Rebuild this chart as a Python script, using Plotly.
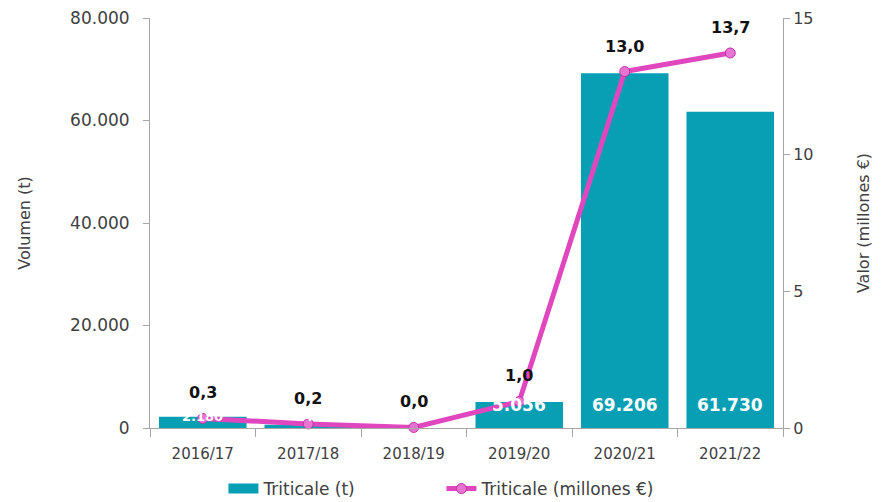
import plotly.graph_objects as go

categories = ["2016/17", "2017/18", "2018/19", "2019/20", "2020/21", "2021/22"]
volumen_t = [2180, 640, 0, 5056, 69206, 61730]
volumen_labels = ["2.180", "640", "", "5.056", "69.206", "61.730"]
valor_meur = [0.35, 0.15, 0.02, 0.97, 13.04, 13.72]
valor_labels = ["0,3", "0,2", "0,0", "1,0", "13,0", "13,7"]
y1_ticks = [0, 20000, 40000, 60000, 80000]
y1_ticklabels = ["0", "20.000", "40.000", "60.000", "80.000"]
y2_ticks = [0, 5, 10, 15]

FONT = "DejaVu Sans"
BAR = "#089fb4"
LINE = "#e046be"
AX = "#a6a6a6"
TXT = "#404040"

fig = go.Figure()
fig.add_trace(go.Bar(
    x=categories, y=volumen_t, name="Triticale (t)",
    marker=dict(color=BAR, line=dict(width=0)),
    showlegend=False, yaxis="y",
))
# legend proxy for the bar series (wide rectangle symbol)
fig.add_trace(go.Scatter(
    x=[None], y=[None], mode="lines", name="Triticale (t)",
    line=dict(color=BAR, width=11), yaxis="y",
))
fig.add_trace(go.Scatter(
    x=categories, y=valor_meur, name="Triticale (millones €)",
    mode="lines+markers",
    line=dict(color=LINE, width=5),
    marker=dict(size=10, color="#e874d2", line=dict(color="#c42ea8", width=1)),
    cliponaxis=False,
    yaxis="y2",
))

annotations = []
for c, v, t in zip(categories, volumen_t, volumen_labels):
    if t:
        small = v < 3000
        annotations.append(dict(
            x=c, y=0, xref="x", yref="y", text=t, showarrow=False,
            yanchor="bottom", yshift=2 if small else 11,
            font=dict(color="white", size=13 if small else 17, family=FONT, weight="bold"),
        ))
for c, v, t in zip(categories, valor_meur, valor_labels):
    annotations.append(dict(
        x=c, y=v, xref="x", yref="y2", text=t, showarrow=False,
        yanchor="bottom", yshift=14,
        font=dict(color="#111111", size=16, family=FONT, weight="bold"),
    ))

fig.update_layout(
    width=874, height=494,
    margin=dict(l=142, r=99, t=10, b=74, autoexpand=False),
    paper_bgcolor="white", plot_bgcolor="white",
    font=dict(family=FONT, size=15, color=TXT),
    bargap=0.17,
    showlegend=True,
    annotations=annotations,
    legend=dict(orientation="h", x=0.116, xanchor="left", y=-0.105, yanchor="top",
                font=dict(size=17, color=TXT), traceorder="normal",
                entrywidth=173, entrywidthmode="pixels"),
    xaxis=dict(
        showline=True, linecolor=AX, linewidth=1, automargin=False,
        ticks="outside", tickson="boundaries", ticklen=8, tickcolor=AX,
        ticklabelstandoff=12,
        range=[-0.5, 5.5], showgrid=False, tickfont=dict(size=15, color=TXT),
    ),
    yaxis=dict(
        range=[0, 80000], tickvals=y1_ticks, ticktext=y1_ticklabels,
        showline=True, linecolor=AX, linewidth=1, ticks="outside", ticklen=6,
        tickcolor=AX, showgrid=False, zeroline=False, automargin=False,
        ticklabelstandoff=10, ticklabeloverflow="allow",
        title=dict(text="Volumen (t)", font=dict(size=16, color=TXT), standoff=35),
        tickfont=dict(size=17, color=TXT),
    ),
    yaxis2=dict(
        range=[0, 15], tickvals=y2_ticks, overlaying="y", side="right",
        showline=True, linecolor=AX, linewidth=1, ticks="outside", ticklen=6,
        tickcolor=AX, showgrid=False, zeroline=False, automargin=False,
        ticklabeloverflow="allow",
        title=dict(text="Valor (millones €)", font=dict(size=16, color=TXT), standoff=45),
        tickfont=dict(size=16, color=TXT),
    ),
)

fig.write_html("out.html")
